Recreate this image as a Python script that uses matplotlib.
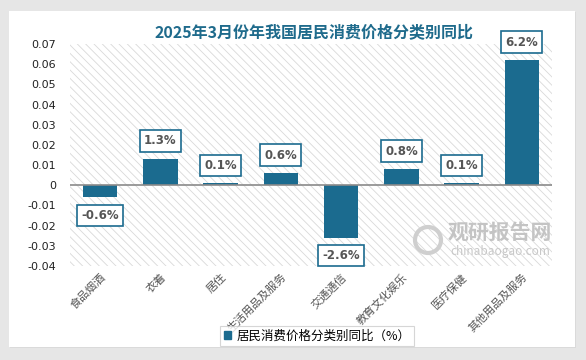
import matplotlib
matplotlib.use("Agg")
import matplotlib.pyplot as plt
from matplotlib.patches import Rectangle, Ellipse

plt.rcParams['font.family'] = ['Noto Sans CJK SC', 'DejaVu Sans']
plt.rcParams['hatch.linewidth'] = 0.6

categories = ["食品烟酒", "衣着", "居住", "生活用品及服务", "交通通信", "教育文化娱乐", "医疗保健", "其他用品及服务"]
values = [-0.006, 0.013, 0.001, 0.006, -0.026, 0.008, 0.001, 0.062]
labels = ["-0.6%", "1.3%", "0.1%", "0.6%", "-2.6%", "0.8%", "0.1%", "6.2%"]
yticks = [0.07, 0.06, 0.05, 0.04, 0.03, 0.02, 0.01, 0, -0.01, -0.02, -0.03, -0.04]
ytick_labels = ["0.07", "0.06", "0.05", "0.04", "0.03", "0.02", "0.01", "0", "-0.01", "-0.02", "-0.03", "-0.04"]
title = "2025年3月份年我国居民消费价格分类别同比"
legend_label = "居民消费价格分类别同比（%）"

W, H = 586, 360
fig = plt.figure(figsize=(W/100, H/100), dpi=100)
fig.patch.set_facecolor("#e6e6e6")

# card
fig.patches.append(Rectangle((10/W, 12/H), 566/W, 336/H, transform=fig.transFigure,
                             facecolor="#d0d0d0", edgecolor="none", alpha=0.5, zorder=-2))
fig.patches.append(Rectangle((9/W, 13/H), 566/W, 336/H, transform=fig.transFigure,
                             facecolor="white", edgecolor="none", zorder=-1))

ax = fig.add_axes([70/W, (H-266)/H, 482/W, 222/H])
ax.set_facecolor("none")
ax.add_patch(Rectangle((0, 0), 1, 1, transform=ax.transAxes, facecolor="white",
                       edgecolor="#d9d9d9", hatch="\\\\\\\\", linewidth=0, zorder=0))

x = range(len(categories))
bar_color = "#1B6B8F"
ax.bar(x, values, width=0.57, color=bar_color, zorder=3)
ax.set_xlim(-0.5, len(categories) - 0.5)
ax.set_ylim(-0.04, 0.07)
ax.axhline(0, color="#8a8a8a", linewidth=1.2, zorder=4)

ax.set_yticks(yticks)
ax.set_yticklabels(ytick_labels, fontsize=8, color="#222222", family="DejaVu Sans")
ax.set_xticks(list(x))
ax.set_xticklabels(categories, rotation=45, ha="right", rotation_mode="anchor",
                   fontsize=8, color="#555555")
ax.tick_params(axis="both", length=0)
ax.tick_params(axis="y", pad=10)
ax.tick_params(axis="x", pad=4)
for s in ax.spines.values():
    s.set_visible(False)

for i, (v, lab) in enumerate(zip(values, labels)):
    off = 13 if v >= 0 else -13
    ax.annotate(lab, (i, v), xytext=(0, off), textcoords="offset points",
                ha="center", va="center", fontsize=8.5, fontweight="bold", color="#555555",
                family="DejaVu Sans", zorder=6,
                bbox=dict(boxstyle="square,pad=0.35", facecolor="white", edgecolor=bar_color, linewidth=1.2))

# watermark
fig.patches.append(Ellipse((428/W, (H-240)/H), 26/W, 26/H, transform=fig.transFigure,
                           facecolor="none", edgecolor="#cfcfcf", linewidth=3, zorder=1))
fig.text(500/W, (H-232)/H, "观研报告网", fontsize=15, fontweight="bold", color="#c4c4c4",
         ha="center", va="center", zorder=1)
fig.text(500/W, (H-251)/H, "chinabaogao.com", fontsize=8.5, color="#c8c8c8",
         ha="center", va="center", zorder=1)

fig.text(314/W, (H-32)/H, title, fontsize=11.5, fontweight="bold", color="#1F6B8C",
         ha="center", va="center")

# legend
leg = fig.legend(handles=[Rectangle((0, 0), 1, 1, color=bar_color)], labels=[legend_label],
                 loc="center", bbox_to_anchor=(317/W, (H-336)/H), frameon=True, fontsize=9,
                 handlelength=0.6, handleheight=0.6, handletextpad=0.4, borderpad=0.3,
                 fancybox=False, edgecolor="#cccccc")
leg.get_frame().set_linewidth(0.8)

fig.savefig("out.png", dpi=100)
